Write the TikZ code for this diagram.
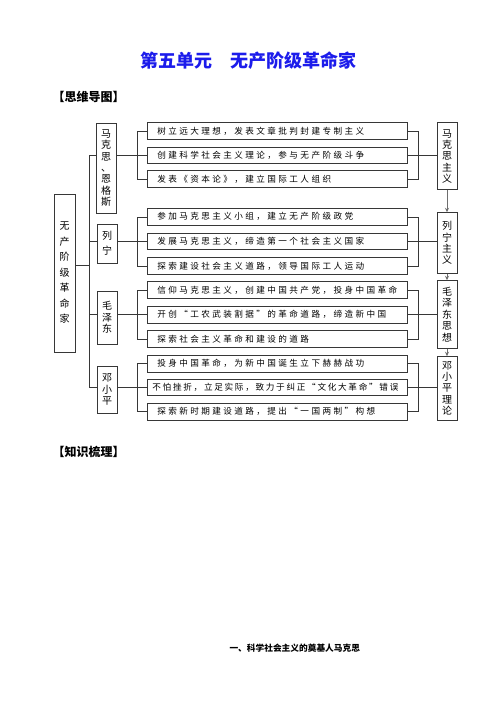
\documentclass[tikz,border=0pt]{standalone}
\usepackage{fontspec}
\setmainfont{Noto Sans CJK SC}
\newfontfamily\rowfont[LetterSpace=28]{Noto Sans CJK SC}
\newfontfamily\rowtight[LetterSpace=20]{Noto Sans CJK SC}
\usetikzlibrary{arrows.meta, positioning, calc}
\definecolor{wuBlue}{RGB}{28,28,235}
\definecolor{wuLine}{RGB}{55,55,55}
\definecolor{wuArrow}{RGB}{110,110,110}

\begin{document}
\begin{tikzpicture}[
    x=1pt, y=-1pt, font=\fontsize{10}{11.4}\selectfont,
    vbox/.style={draw=wuLine, line width=0.8pt, minimum width=20pt,
                 inner sep=0pt, align=center},
    rowbox/.style={draw=wuLine, line width=0.8pt, anchor=west,
                   minimum height=16.5pt, inner sep=0pt,
                   font=\rowfont\fontsize{8.6}{10}\selectfont},
    link/.style={draw=wuLine, line width=0.6pt},
    flow/.style={draw=wuArrow, line width=1pt, -{Stealth[length=4.5pt,width=4pt]}}
]
\useasboundingbox (0,0) rectangle (496,702);
% Title and headings
\node[font=\bfseries\fontsize{18}{20}\selectfont, text=wuBlue] (title) at (248,61)
     {第五单元　无产阶级革命家};
\node[anchor=west, font=\bfseries\fontsize{12}{14}\selectfont] (mapHead) at (49,97) {【思维导图】};

% Root and person boxes
\node[vbox, minimum width=21pt, minimum height=158pt,
      font=\fontsize{10}{15.5}\selectfont] (root) at (64.5,273) {无\\产\\阶\\级\\革\\命\\家};
\node[vbox, minimum height=90pt] (mks) at (106,168) {马\\克\\思\\、\\恩\\格\\斯};
\node[vbox, minimum height=39pt, font=\fontsize{10}{15}\selectfont] (lenin) at (107,243.5) {列\\宁};
\node[vbox, minimum height=53pt] (mao) at (107,317.5) {毛\\泽\\东};
\node[vbox, minimum height=47pt] (deng) at (107,389.5) {邓\\小\\平};

% Theory boxes
\node[vbox, minimum height=67pt] (r1) at (447,156.3) {马\\克\\思\\主\\义};
\node[vbox, minimum height=60.6pt] (r2) at (447,243) {列\\宁\\主\\义};
\node[vbox, minimum height=67.6pt] (r3) at (447,314.5) {毛\\泽\\东\\思\\想};
\node[vbox, minimum height=63.3pt] (r4) at (447,388.3) {邓\\小\\平\\理\\论};

% Deeds
\foreach \i/\y/\pad/\txt in {
  1/130.8/10/{树立远大理想，发表文章批判封建专制主义},
  2/155.3/10/{创建科学社会主义理论，参与无产阶级斗争},
  3/179.0/10/{发表《资本论》，建立国际工人组织},
  4/216.8/10/{参加马克思主义小组，建立无产阶级政党},
  5/241.5/10/{发展马克思主义，缔造第一个社会主义国家},
  6/266.0/10/{探索建设社会主义道路，领导国际工人运动},
  7/290.0/10/{信仰马克思主义，创建中国共产党，投身中国革命},
  8/314.7/10/{开创“工农武装割据”的革命道路，缔造新中国},
  9/339.0/10/{探索社会主义革命和建设的道路},
  10/363.7/10/{投身中国革命，为新中国诞生立下赫赫战功},
  11/387.5/5/{\rowtight 不怕挫折，立足实际，致力于纠正“文化大革命”错误},
  12/411.7/10/{探索新时期建设道路，提出“一国两制”构想}}
{
   \node[rowbox] (m\i) at (147,\y) {\makebox[260pt][l]{\hspace*{\pad pt}\txt}};
}

% Connectors
\coordinate (trunk) at (89,0);
\coordinate (rootOut) at ([yshift=8pt]root.east);
\draw[link] (rootOut) -- (trunk |- rootOut);
\draw[link] (trunk |- m2.west) -- (trunk |- m11.west);
\foreach \a/\b/\c/\s/\r in {1/2/3/mks/r1, 4/5/6/lenin/r2, 7/8/9/mao/r3, 10/11/12/deng/r4} {
   \draw[link] (trunk |- m\b.west) -- (\s.west |- m\b.west);
   \draw[link] (m\a.west) -- ++(-10,0) |- (m\c.west);
   \draw[link] (\s.east |- m\b.west) -- (m\b.west);
   \draw[link] (m\a.east) -- ++(10,0) |- (m\c.east);
   \draw[link] (m\b.east) -- (\r.west |- m\b.east);
}
\draw[flow] (r1) -- (r2);
\draw[flow] (r2) -- (r3);
\draw[flow] (r3) -- (r4);

% Lower headings
\node[anchor=west, font=\bfseries\fontsize{12}{14}\selectfont] (knowHead) at (49,452) {【知识梳理】};
\node[anchor=west, font=\bfseries\fontsize{8.7}{10}\selectfont] (secOne) at (226,648)
     {一、科学社会主义的奠基人马克思};
\end{tikzpicture}
\end{document}
